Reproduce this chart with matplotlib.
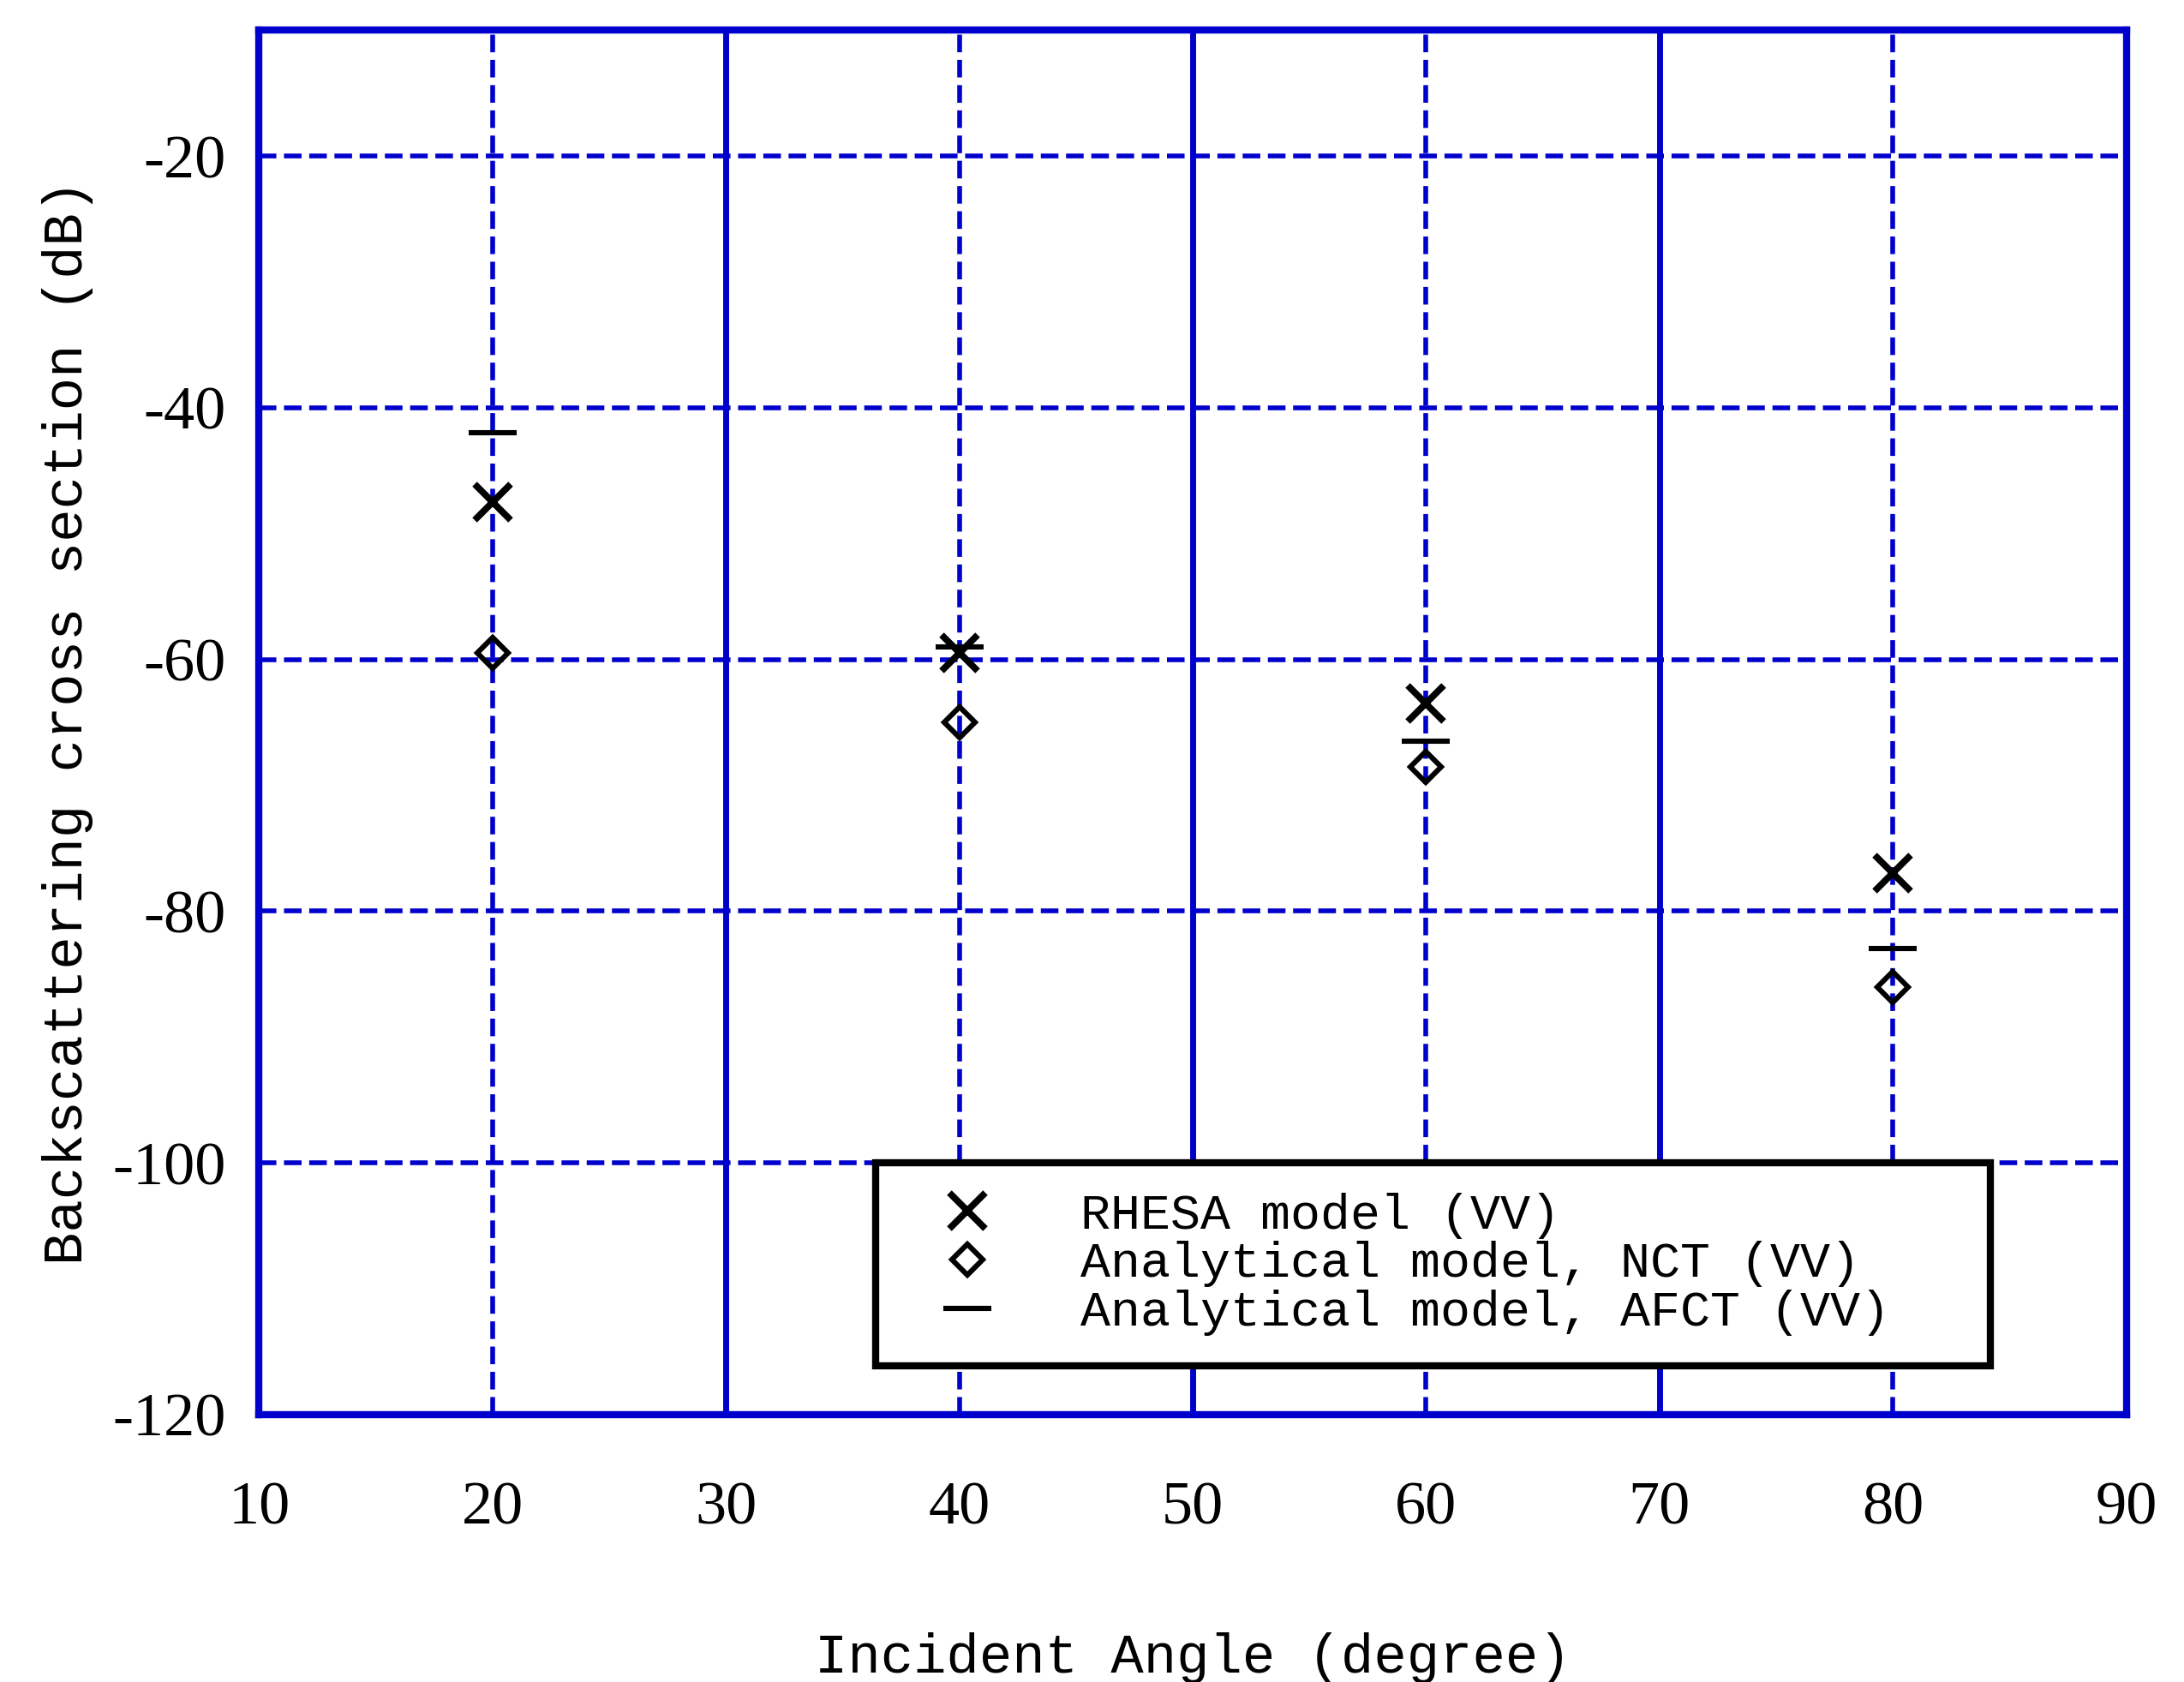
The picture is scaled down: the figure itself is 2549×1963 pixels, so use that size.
import matplotlib.pyplot as plt

plt.rcParams["axes.unicode_minus"] = False

angles = [20, 40, 60, 80]
rhesa = [-47.5, -59.5, -63.5, -77]
nct = [-59.5, -65, -68.5, -86]
afct = [-42, -59, -66.5, -83]

fig = plt.figure(figsize=(12.745, 9.815), dpi=200)
ax = fig.add_axes([0.1186, 0.159, 0.855, 0.823])
ax.set_xlim(10, 90)
ax.set_ylim(-120, -10)

blue = "#0000cc"
for y in [-20, -40, -60, -80, -100]:
    ax.axhline(y, color=blue, linestyle="--", linewidth=2, zorder=0)
for x in [20, 40, 60, 80]:
    ax.axvline(x, color=blue, linestyle="--", linewidth=2, zorder=0)
for x in [30, 50, 70]:
    ax.axvline(x, color=blue, linestyle="-", linewidth=2.5, zorder=0)
for s in ax.spines.values():
    s.set_color(blue)
    s.set_linewidth(3)

ax.plot(angles, rhesa, "x", color="black", markersize=15, markeredgewidth=2.8, label="RHESA model (VV)")
ax.plot(angles, nct, "D", color="black", markerfacecolor="none", markersize=9, markeredgewidth=2.2, label="Analytical model, NCT (VV)")
ax.plot(angles, afct, "_", color="black", markersize=20, markeredgewidth=2.2, label="Analytical model, AFCT (VV)")

ax.set_xticks(range(10, 91, 10))
ax.set_yticks([-120, -100, -80, -60, -40, -20])
ax.tick_params(length=0, pad=14, labelsize=26)
for lbl in ax.get_xticklabels() + ax.get_yticklabels():
    lbl.set_family("Liberation Serif")
ax.tick_params(axis="x", pad=28)

ax.set_xlabel("Incident Angle (degree)", family="Liberation Mono", fontsize=23, labelpad=40)
ax.set_ylabel("Backscattering cross section (dB)", family="Liberation Mono", fontsize=23, labelpad=8)

leg = ax.legend(loc="lower left", bbox_to_anchor=(0.33, 0.035, 0.597, 0.17), mode="expand",
                prop={"family": "Liberation Mono", "size": 21}, fancybox=False, framealpha=1,
                edgecolor="black", handletextpad=1.0, labelspacing=0.05, borderpad=0.6,
                handlelength=2.5, borderaxespad=0)
leg.get_frame().set_linewidth(3)

fig.savefig("out.png", dpi=200)
